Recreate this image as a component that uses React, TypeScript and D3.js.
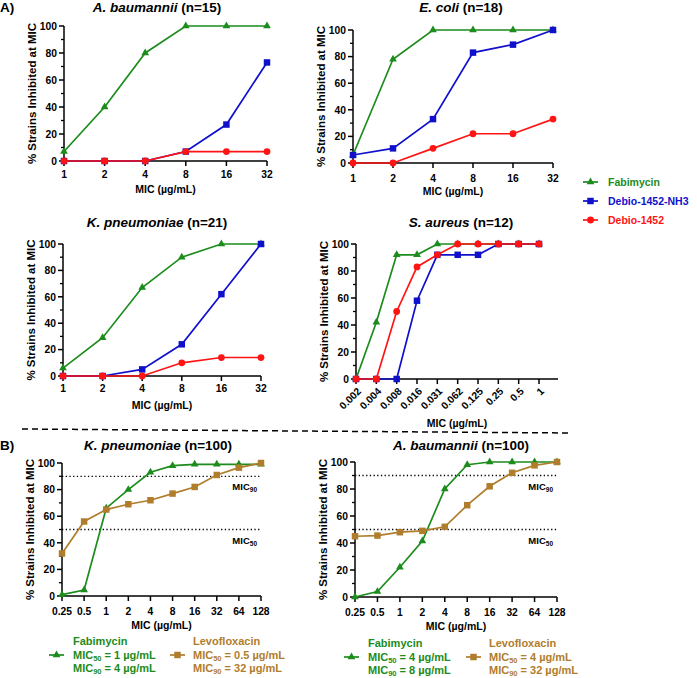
import React from "react";
import * as d3 from "d3";

// ---------- DATA ----------
const A_CATS = ["1", "2", "4", "8", "16", "32"];
const SA_CATS = ["0.002", "0.004", "0.008", "0.016", "0.031", "0.062", "0.125", "0.25", "0.5", "1"];
const B_CATS = ["0.25", "0.5", "1", "2", "4", "8", "16", "32", "64", "128"];

const AB_FAB = [7, 40, 80, 100, 100, 100];
const AB_NH3 = [0, 0, 0, 7, 27, 73];
const AB_DEB = [0, 0, 0, 7, 7, 7];

const EC_FAB = [6, 78, 100, 100, 100, 100];
const EC_NH3 = [6, 11, 33, 83, 89, 100];
const EC_DEB = [0, 0, 11, 22, 22, 33];

const KP_FAB = [6, 29, 67, 90, 100, 100];
const KP_NH3 = [0, 0, 5, 24, 62, 100];
const KP_DEB = [0, 0, 0, 10, 14, 14];

const SA_FAB = [0, 42, 92, 92, 100, 100, 100, 100, 100, 100];
const SA_NH3 = [0, 0, 0, 58, 92, 92, 92, 100, 100, 100];
const SA_DEB = [0, 0, 50, 83, 92, 100, 100, 100, 100, 100];

const KP100_FAB = [1, 4.5, 66, 80, 93, 98, 99, 99, 99, 99];
const KP100_LEV = [32, 56, 65, 69, 72, 77, 82, 91, 96.5, 100];

const AB100_FAB = [0, 4, 22, 41.5, 80, 98, 100, 100, 100, 100];
const AB100_LEV = [45, 45.5, 48, 49, 52, 68, 82, 92, 97.5, 100];

const Y_MAJOR = [0, 20, 40, 60, 80, 100];
const Y_MINOR = [10, 30, 50, 70, 90];

// ---------- STYLE ----------
const GREEN = "#1c8c1c";
const BLUE = "#1010cc";
const RED = "#ff1414";
const BROWN = "#b07d2c";
const FONT = "'Liberation Sans', Arial, sans-serif";

type Series = { values: number[]; color: string; shape: "tri" | "sq" | "circ" };
type PanelCfg = {
  cats: string[];
  x0: number; x1: number; xEnd: number;
  y0: number; y1: number;
  title: string; n: string; titleX: number; titleY: number;
  series: Series[];
  rotate?: boolean;
  tickLabelDy: number;
  micY: number; micX?: number;
  ref?: boolean;
};

function symbolPath(shape: string) {
  if (shape === "tri") return d3.symbol(d3.symbolTriangle, 26)()!;
  if (shape === "sq") return d3.symbol(d3.symbolSquare, 42)()!;
  return d3.symbol(d3.symbolCircle, 36)()!;
}

function Panel({ cfg }: { cfg: PanelCfg }) {
  const x = d3.scalePoint<string>().domain(cfg.cats).range([cfg.x0, cfg.x1]);
  const y = d3.scaleLinear().domain([0, 100]).range([cfg.y0, cfg.y1]);
  const line = d3
    .line<number>()
    .x((_, i) => x(cfg.cats[i])!)
    .y((v) => y(v));
  const midY = (cfg.y0 + cfg.y1) / 2;
  const micX = cfg.micX ?? (cfg.x0 + cfg.xEnd) / 2;
  return (
    <g>
      <text x={cfg.titleX} y={cfg.titleY} textAnchor="middle" fontSize={13.5} fontWeight="bold" fontFamily={FONT}>
        <tspan fontStyle="italic">{cfg.title}</tspan>
        <tspan> {cfg.n}</tspan>
      </text>
      {cfg.ref &&
        [90, 50].map((v) => (
          <g key={v}>
            <line x1={cfg.x0} x2={cfg.x1} y1={y(v)} y2={y(v)} stroke="#000" strokeWidth={1.3} strokeDasharray="1.3,2.4" />
            <text x={cfg.x1 - 4} y={y(v) + 14} textAnchor="end" fontSize={9.5} fontWeight="bold" fontFamily={FONT}>
              MIC<tspan fontSize={6.5} dy={2}>{v === 90 ? "90" : "50"}</tspan>
            </text>
          </g>
        ))}
      {/* y axis */}
      <line x1={cfg.x0} x2={cfg.x0} y1={y(0) + 0.75} y2={y(100)} stroke="#000" strokeWidth={1.5} />
      {Y_MAJOR.map((v) => (
        <g key={v}>
          <line x1={cfg.x0 - 5} x2={cfg.x0} y1={y(v)} y2={y(v)} stroke="#000" strokeWidth={1.5} />
          <text x={cfg.x0 - 7} y={y(v) + 3.7} textAnchor="end" fontSize={10.3} fontWeight="bold" fontFamily={FONT}>
            {v}
          </text>
        </g>
      ))}
      {Y_MINOR.map((v) => (
        <line key={v} x1={cfg.x0 - 3} x2={cfg.x0} y1={y(v)} y2={y(v)} stroke="#000" strokeWidth={1.3} />
      ))}
      <text
        transform={`translate(${cfg.x0 - 32},${midY}) rotate(-90)`}
        textAnchor="middle"
        dy={4}
        fontSize={11.5}
        fontWeight="bold"
        fontFamily={FONT}
      >
        % Strains Inhibited at MIC
      </text>
      {/* x axis */}
      <line x1={cfg.x0 - 0.75} x2={cfg.xEnd} y1={y(0)} y2={y(0)} stroke="#000" strokeWidth={1.5} />
      {cfg.cats.map((c) => (
        <g key={c}>
          <line x1={x(c)} x2={x(c)} y1={y(0)} y2={y(0) + 5} stroke="#000" strokeWidth={1.5} />
          {cfg.rotate ? (
            <text
              transform={`translate(${x(c)! + 3},${y(0) + 10}) rotate(-45)`}
              textAnchor="end"
              dy={4}
              fontSize={10.3}
              fontWeight="bold"
              fontFamily={FONT}
            >
              {c}
            </text>
          ) : (
            <text x={x(c)} y={y(0) + cfg.tickLabelDy} textAnchor="middle" fontSize={10.3} fontWeight="bold" fontFamily={FONT}>
              {c}
            </text>
          )}
        </g>
      ))}
      <text x={micX} y={cfg.micY} textAnchor="middle" fontSize={10.5} fontWeight="bold" fontFamily={FONT}>
        MIC (µg/mL)
      </text>
      {/* series */}
      {cfg.series.map((s, si) => (
        <g key={si}>
          <path d={line(s.values)!} fill="none" stroke={s.color} strokeWidth={1.7} />
          {s.values.map((v, i) => (
            <path
              key={i}
              d={symbolPath(s.shape)}
              transform={`translate(${x(cfg.cats[i])},${y(v)})`}
              fill={s.color}
            />
          ))}
        </g>
      ))}
    </g>
  );
}

function LegendMarker({ x, y, color, shape }: { x: number; y: number; color: string; shape: string }) {
  return (
    <g>
      <line x1={x} x2={x + 15} y1={y} y2={y} stroke={color} strokeWidth={1.7} />
      <path d={symbolPath(shape)} transform={`translate(${x + 7.5},${y})`} fill={color} />
    </g>
  );
}

function MicText({ x, y, color, sub, rest }: { x: number; y: number; color: string; sub: string; rest: string }) {
  return (
    <text x={x} y={y + 4} fontSize={11} fontWeight="bold" fill={color} fontFamily={FONT}>
      MIC<tspan fontSize={7.5} dy={2}>{sub}</tspan>
      <tspan dy={-2}>{rest}</tspan>
    </text>
  );
}

function BLegend({ gx, bx, rows, fab, lev }: { gx: number; bx: number; rows: number[]; fab: string[]; lev: string[] }) {
  return (
    <g>
      <LegendMarker x={gx} y={rows[1]} color={GREEN} shape="tri" />
      <text x={gx + 24} y={rows[0] + 4} fontSize={11} fontWeight="bold" fill={GREEN} fontFamily={FONT}>
        Fabimycin
      </text>
      <MicText x={gx + 24} y={rows[1]} color={GREEN} sub="50" rest={fab[0]} />
      <MicText x={gx + 24} y={rows[2]} color={GREEN} sub="90" rest={fab[1]} />
      <LegendMarker x={bx} y={rows[1]} color={BROWN} shape="sq" />
      <text x={bx + 23} y={rows[0] + 4} fontSize={11} fontWeight="bold" fill={BROWN} fontFamily={FONT}>
        Levofloxacin
      </text>
      <MicText x={bx + 23} y={rows[1]} color={BROWN} sub="50" rest={lev[0]} />
      <MicText x={bx + 23} y={rows[2]} color={BROWN} sub="90" rest={lev[1]} />
    </g>
  );
}

export default function App() {
  const tri = (v: number[]): Series => ({ values: v, color: GREEN, shape: "tri" });
  const sq = (v: number[]): Series => ({ values: v, color: BLUE, shape: "sq" });
  const circ = (v: number[]): Series => ({ values: v, color: RED, shape: "circ" });
  const brown = (v: number[]): Series => ({ values: v, color: BROWN, shape: "sq" });

  const panels: PanelCfg[] = [
    { cats: A_CATS, x0: 64, x1: 267, xEnd: 267, y0: 161, y1: 26, title: "A. baumannii", n: "(n=15)", titleX: 157, titleY: 12,
      series: [tri(AB_FAB), sq(AB_NH3), circ(AB_DEB)], tickLabelDy: 17, micY: 193 },
    { cats: A_CATS, x0: 353, x1: 553, xEnd: 553, y0: 163, y1: 30, title: "E. coli", n: "(n=18)", titleX: 461, titleY: 12,
      series: [tri(EC_FAB), sq(EC_NH3), circ(EC_DEB)], tickLabelDy: 19, micY: 195 },
    { cats: A_CATS, x0: 63, x1: 261, xEnd: 261, y0: 376, y1: 244, title: "K. pneumoniae", n: "(n=21)", titleX: 157, titleY: 227,
      series: [tri(KP_FAB), sq(KP_NH3), circ(KP_DEB)], tickLabelDy: 16, micY: 409 },
    { cats: SA_CATS, x0: 356, x1: 539, xEnd: 558, y0: 379, y1: 244, title: "S. aureus", n: "(n=12)", titleX: 461, titleY: 227,
      series: [tri(SA_FAB), sq(SA_NH3), circ(SA_DEB)], rotate: true, tickLabelDy: 16, micY: 427, micX: 457 },
    { cats: B_CATS, x0: 62, x1: 261, xEnd: 261, y0: 596, y1: 463, title: "K. pneumoniae", n: "(n=100)", titleX: 158, titleY: 450,
      series: [tri(KP100_FAB), brown(KP100_LEV)], tickLabelDy: 19, micY: 629, ref: true },
    { cats: B_CATS, x0: 355, x1: 557, xEnd: 557, y0: 597, y1: 462, title: "A. baumannii", n: "(n=100)", titleX: 461, titleY: 450,
      series: [tri(AB100_FAB), brown(AB100_LEV)], tickLabelDy: 19, micY: 630, ref: true },
  ];

  const legendA = [
    { label: "Fabimycin", color: GREEN, shape: "tri", y: 182 },
    { label: "Debio-1452-NH3", color: BLUE, shape: "sq", y: 201 },
    { label: "Debio-1452", color: RED, shape: "circ", y: 220 },
  ];

  return (
    <svg
      width={697}
      height={678}
      style={{ position: "absolute", left: 0, top: 0, background: "#fff" }}
      fontFamily={FONT}
    >
      <rect width={697} height={678} fill="#fff" />
      <text x={0} y={12} fontSize={13.5} fontWeight="bold" fontFamily={FONT}>A)</text>
      <text x={0} y={450} fontSize={13.5} fontWeight="bold" fontFamily={FONT}>B)</text>
      <line x1={22} y1={429} x2={572} y2={433} stroke="#000" strokeWidth={1.5} strokeDasharray="6,4" />
      {panels.map((p, i) => (
        <Panel key={i} cfg={p} />
      ))}
      {legendA.map((l) => (
        <g key={l.label}>
          <LegendMarker x={583} y={l.y} color={l.color} shape={l.shape} />
          <text x={608} y={l.y + 4} fontSize={10.5} fontWeight="bold" fill={l.color} fontFamily={FONT}>
            {l.label}
          </text>
        </g>
      ))}
      <BLegend gx={49} bx={170} rows={[641, 655, 668]} fab={[" = 1 µg/mL", " = 4 µg/mL"]} lev={[" = 0.5 µg/mL", " = 32 µg/mL"]} />
      <BLegend gx={344} bx={466} rows={[643, 657, 670]} fab={[" = 4 µg/mL", " = 8 µg/mL"]} lev={[" = 4 µg/mL", " = 32 µg/mL"]} />
    </svg>
  );
}
